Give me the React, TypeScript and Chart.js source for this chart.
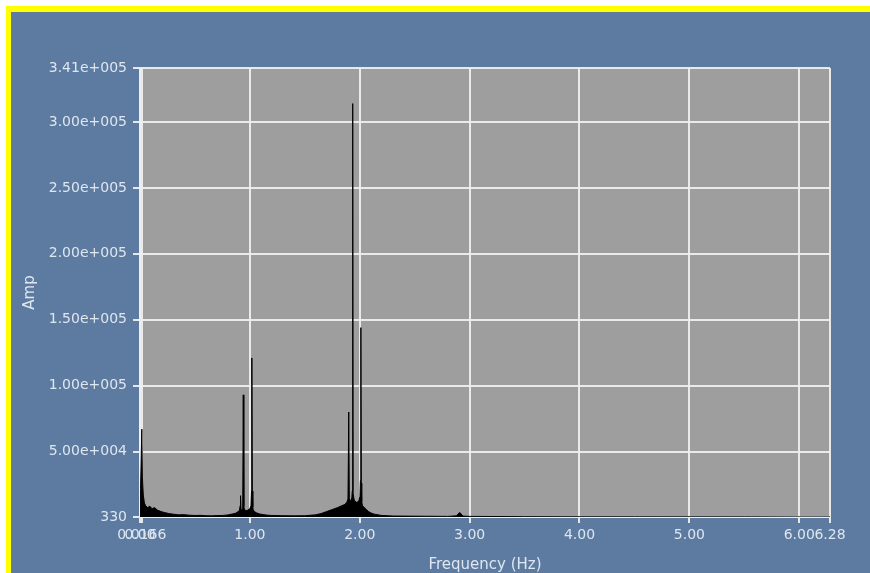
import React, { useEffect, useRef } from "react";
import { Chart, registerables } from "chart.js";

Chart.register(...registerables);

// Spectrum samples (Hz) and amplitudes
const freqHz: number[] = [
  0.0, 0.005, 0.0166, 0.022, 0.03, 0.04, 0.05, 0.07, 0.09, 0.11, 0.13, 0.16, 0.19, 0.22, 0.26, 0.3,
  0.35, 0.4, 0.45, 0.5, 0.55, 0.6, 0.65, 0.7, 0.75, 0.8, 0.84, 0.87, 0.89, 0.905, 0.912, 0.915,
  0.92, 0.928, 0.935, 0.94, 0.945, 0.95, 0.96, 0.98, 1.0, 1.01, 1.015, 1.018, 1.022, 1.027, 1.03,
  1.04, 1.06, 1.09, 1.12, 1.15, 1.2, 1.3, 1.4, 1.5, 1.6, 1.65, 1.7, 1.75, 1.8, 1.84, 1.868, 1.873,
  1.878, 1.893, 1.9, 1.905, 1.915, 1.928, 1.932, 1.936, 1.94, 1.95, 1.97, 1.99, 2.002, 2.006, 2.01,
  2.014, 2.018, 2.025, 2.04, 2.06, 2.08, 2.1, 2.13, 2.2, 2.3, 2.4, 2.6, 2.8, 2.88, 2.91, 2.94, 3.0,
  3.5, 4.0, 4.5, 5.0, 5.5, 6.0, 6.28,
];
const ampValues: number[] = [
  3000, 22000, 67000, 30000, 17000, 11000, 9000, 7500, 8500, 6500, 7500, 5500, 4500, 3800, 3000, 2500,
  2000, 2100, 1700, 1500, 1600, 1300, 1200, 1400, 1500, 1900, 2600, 3200, 4200, 5500, 9000, 16500,
  5500, 6000, 7000, 93000, 8000, 6500, 5000, 5500, 6500, 9000, 20000, 121000, 20000, 8000, 6000,
  4500, 3500, 2600, 2200, 1800, 1500, 1300, 1200, 1300, 2000, 3000, 4500, 6000, 7500, 9000, 10000, 11000,
  10500, 14000, 80000, 14000, 12000, 15000, 20000, 314000, 18000, 13000, 11500, 12000, 16000, 28000, 144000,
  26000, 12000, 9000, 7500, 6000, 4500, 3500, 2500, 1500, 1100, 1000, 900, 800, 1200, 3800, 1000, 800,
  600, 500, 480, 450, 430, 400, 400,
];

const yTickValues: number[] = [330, 50000, 100000, 150000, 200000, 250000, 300000, 341000];
const yTickLabels: string[] = [
  "330", "5.00e+004", "1.00e+005", "1.50e+005", "2.00e+005", "2.50e+005", "3.00e+005", "3.41e+005",
];
const xTickValues: number[] = [0, 0.0166, 1, 2, 3, 4, 5, 6, 6.28];
const xTickLabels: string[] = ["0.00", "0.0166", "1.00", "2.00", "3.00", "4.00", "5.00", "6.00", "6.28"];

const TEXT = "rgb(222,230,240)";
const GRID = "rgba(238,238,238,0.95)";

export default function App() {
  const ref = useRef<HTMLCanvasElement | null>(null);

  useEffect(() => {
    if (!ref.current) return;
    const bgPlugin = {
      id: "bg",
      beforeDraw(chart: any) {
        const { ctx, chartArea } = chart;
        ctx.save();
        ctx.fillStyle = "#ffffff";
        ctx.fillRect(0, 0, chart.width, chart.height);
        ctx.fillStyle = "#ffff00";
        ctx.fillRect(6, 6, chart.width - 6, chart.height - 6);
        ctx.fillStyle = "rgb(93,123,160)";
        ctx.fillRect(11, 12, chart.width - 11, chart.height - 12);
        ctx.fillStyle = "rgb(158,158,158)";
        ctx.fillRect(chartArea.left, chartArea.top, chartArea.right - chartArea.left, chartArea.bottom - chartArea.top);
        ctx.restore();
      },
    };

    const chart = new Chart(ref.current, {
      type: "line",
      data: {
        datasets: [
          {
            data: freqHz.map((f, i) => ({ x: f, y: ampValues[i] })),
            borderColor: "#000000",
            backgroundColor: "#000000",
            borderWidth: 1,
            pointRadius: 0,
            tension: 0,
            fill: "start",
          },
        ],
      },
      options: {
        responsive: false,
        animation: false,
        layout: { padding: { left: 0, top: 68, right: 40, bottom: 0 } },
        plugins: { legend: { display: false }, tooltip: { enabled: false } },
        scales: {
          x: {
            type: "linear",
            min: 0,
            max: 6.28,
            afterFit: (s: any) => {
              s.height = 56;
            },
            afterBuildTicks: (s: any) => {
              s.ticks = xTickValues.map((v) => ({ value: v }));
            },
            ticks: {
              autoSkip: false,
              maxRotation: 0,
              minRotation: 0,
              padding: 4,
              color: TEXT,
              font: { family: "DejaVu Sans", size: 14 },
              callback: (_v: any, i: number) => xTickLabels[i],
            },
            grid: { color: GRID, lineWidth: 2, tickLength: 6, tickColor: GRID },
            border: { color: GRID, width: 2 },
            title: {
              display: true,
              text: "Frequency (Hz)",
              color: TEXT,
              font: { family: "DejaVu Sans", size: 15 },
              padding: { top: 0, bottom: -1 },
            },
          },
          y: {
            type: "linear",
            min: 330,
            max: 341000,
            afterFit: (s: any) => {
              s.width = 140;
            },
            afterBuildTicks: (s: any) => {
              s.ticks = yTickValues.map((v) => ({ value: v }));
            },
            ticks: {
              autoSkip: false,
              padding: 6,
              color: TEXT,
              font: { family: "DejaVu Sans", size: 14 },
              callback: (_v: any, i: number) => yTickLabels[i],
            },
            grid: { color: GRID, lineWidth: 2, tickLength: 7, tickColor: GRID },
            border: { color: GRID, width: 2 },
            title: {
              display: true,
              text: "Amp",
              color: TEXT,
              font: { family: "DejaVu Sans", size: 15 },
              padding: { top: 21, bottom: 0 },
            },
          },
        },
      },
      plugins: [bgPlugin],
    });
    return () => chart.destroy();
  }, []);

  return (
    <div style={{ position: "fixed", left: 0, top: 0, width: 870, height: 573 }}>
      <canvas ref={ref} width={870} height={573} style={{ display: "block" }} />
    </div>
  );
}
